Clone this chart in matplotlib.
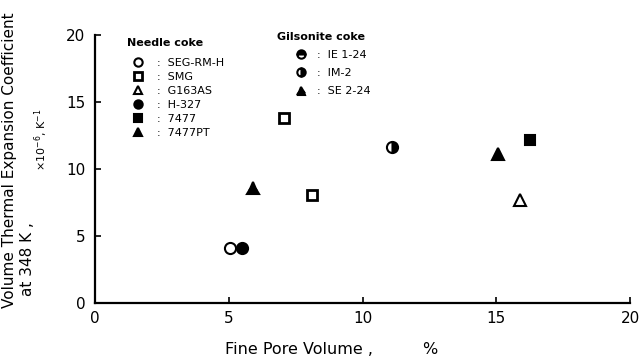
import matplotlib
matplotlib.use('Agg')
import matplotlib.pyplot as plt

plt.rcParams['font.family'] = ['DejaVu Sans']

# fine pore volume (%) and volume thermal expansion coefficient (x10^-6 K^-1)
seg_x, seg_y = [5.06], [4.1]
smg_x, smg_y = [7.08, 8.13], [13.8, 8.06]
g163_x, g163_y = [15.88], [7.7]
h327_x, h327_y = [5.5], [4.1]
k7477_x, k7477_y = [16.25], [12.2]
k7477pt_x, k7477pt_y = [15.06], [11.1]
ie124_x, ie124_y = [], []
im2_x, im2_y = [11.12], [11.64]
se224_x, se224_y = [5.92], [8.6]

ticks = [0, 5, 10, 15, 20]

W, H = 640, 359
fig = plt.figure(figsize=(6.4, 3.59), dpi=100)
ax = fig.add_axes([95 / W, 1 - 303 / H, 535 / W, 268 / H])

ms = 8
mew = 1.5
needle = []
needle += ax.plot(seg_x, seg_y, ls='none', marker='o', ms=ms, mew=mew,
                  mfc='white', mec='black', label=':  SEG-RM-H')
needle += ax.plot(smg_x, smg_y, ls='none', marker='s', ms=7, mew=2.0,
                  mfc='white', mec='black', label=':  SMG')
needle += ax.plot(g163_x, g163_y, ls='none', marker='^', ms=ms, mew=mew,
                  mfc='white', mec='black', label=':  G163AS')
needle += ax.plot(h327_x, h327_y, ls='none', marker='o', ms=ms, mew=mew,
                  mfc='black', mec='black', label=':  H-327')
needle += ax.plot(k7477_x, k7477_y, ls='none', marker='s', ms=7, mew=mew,
                  mfc='black', mec='black', label=':  7477')
needle += ax.plot(k7477pt_x, k7477pt_y, ls='none', marker='^', ms=ms, mew=mew,
                  mfc='black', mec='black', label=':  7477PT')

gils = []
gils += ax.plot(ie124_x, ie124_y, ls='none', marker='o', ms=ms, mew=mew,
                fillstyle='top', mfc='black', mfcalt='white', mec='black',
                label=':  IE 1-24')
gils += ax.plot(im2_x, im2_y, ls='none', marker='o', ms=ms, mew=mew,
                fillstyle='right', mfc='black', mfcalt='white', mec='black',
                label=':  IM-2')
gils += ax.plot(se224_x, se224_y, ls='none', marker='^', ms=ms, mew=mew,
                fillstyle='top', mfc='black', mfcalt='black', mec='black',
                label=':  SE 2-24')

ax.set_xlim(0, 20)
ax.set_ylim(0, 20)
ax.set_xticks(ticks)
ax.set_yticks(ticks)
ax.spines['top'].set_visible(False)
ax.spines['right'].set_visible(False)
for s in ['left', 'bottom']:
    ax.spines[s].set_linewidth(1.6)
ax.tick_params(direction='in', length=4, width=1.2, labelsize=11)
ax.tick_params(axis='y', pad=7)
ax.tick_params(axis='x', pad=6)

# legend groups, titles drawn separately
fig.text(127 / W, 1 - 43 / H, 'Needle coke', ha='left', va='center',
         fontsize=8, fontweight='bold')
leg1 = ax.legend(handles=needle, loc='upper left', bbox_to_anchor=(132.5 / W, 1 - 58 / H),
                 bbox_transform=fig.transFigure, frameon=False, fontsize=8,
                 handlelength=1.0, handletextpad=1.2, borderaxespad=0,
                 labelspacing=0.36, borderpad=0, markerscale=0.75)
ax.add_artist(leg1)
fig.text(277 / W, 1 - 37 / H, 'Gilsonite coke', ha='left', va='center',
         fontsize=8, fontweight='bold')
ax.legend(handles=gils, loc='upper left', bbox_to_anchor=(295.5 / W, 1 - 50 / H),
          bbox_transform=fig.transFigure, frameon=False, fontsize=8,
          handlelength=1.0, handletextpad=0.94, borderaxespad=0,
          labelspacing=0.74, borderpad=0, markerscale=0.75)

fig.text(10 / W, 1 - 160 / H, 'Volume Thermal Expansion Coefficient',
         rotation=90, ha='center', va='center', fontsize=11)
fig.text(27.5 / W, 1 - 259 / H, 'at 348 K ,', rotation=90,
         ha='center', va='center', fontsize=11)
fig.text(41 / W, 1 - 140 / H, r'$\times$10$^{-6}$, K$^{-1}$', rotation=90,
         ha='center', va='center', fontsize=8)

fig.text(225 / W, 1 - 350 / H, 'Fine Pore Volume ,', ha='left', va='center', fontsize=11.5)
fig.text(430 / W, 1 - 350 / H, '%', ha='center', va='center', fontsize=11.5)

fig.savefig('out.png', dpi=100)
